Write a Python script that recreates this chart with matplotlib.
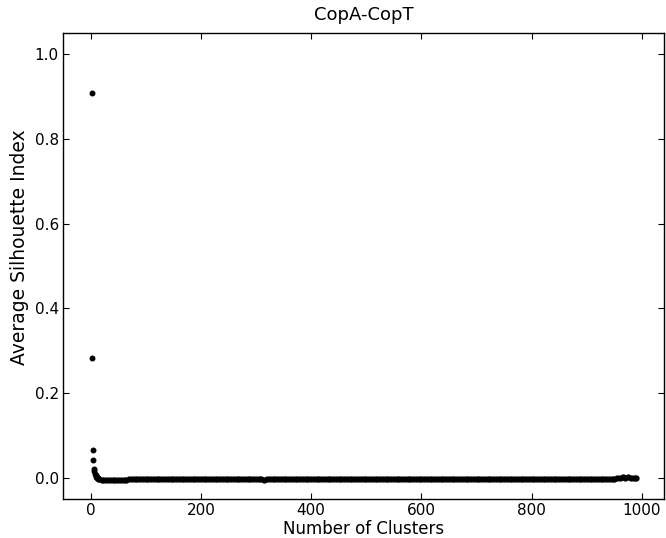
import matplotlib
matplotlib.use('Agg')
import matplotlib.pyplot as plt
import numpy as np

# Average silhouette index for the first few cluster counts (2..14)
head_clusters = [2, 3, 4, 5, 6, 7, 8, 9, 10, 11, 12, 13, 14]
head_values = [0.909, 0.283, 0.066, 0.043, 0.021, 0.015, 0.010, 0.006,
               0.003, 0.001, 0.000, -0.001, -0.002]

# Rest of the curve, read every 5 clusters from 15 to 990
tail_clusters = np.arange(15, 991, 5)
tail_values = [
    -0.003, -0.004, -0.005, -0.005, -0.005, -0.005, -0.005, -0.004, -0.004, -0.004,  # 15-60
    -0.004, -0.003, -0.003, -0.003, -0.003, -0.003, -0.003, -0.003, -0.003, -0.003,  # 65-110
    -0.003, -0.003, -0.003, -0.003, -0.003, -0.002, -0.003, -0.003, -0.002, -0.002,  # 115-160
    -0.002, -0.003, -0.002, -0.002, -0.002, -0.002, -0.002, -0.002, -0.002, -0.002,  # 165-210
    -0.002, -0.002, -0.002, -0.002, -0.002, -0.002, -0.002, -0.002, -0.002, -0.002,  # 215-260
    -0.002, -0.002, -0.002, -0.002, -0.002, -0.002, -0.002, -0.002, -0.002, -0.002,  # 265-310
    -0.004, -0.002, -0.002, -0.002, -0.002, -0.002, -0.002, -0.002, -0.002, -0.002,  # 315-360
    -0.002, -0.002, -0.002, -0.002, -0.002, -0.002, -0.002, -0.002, -0.002, -0.002,  # 365-410
    -0.002, -0.002, -0.002, -0.002, -0.002, -0.002, -0.002, -0.002, -0.002, -0.002,  # 415-460
    -0.002, -0.002, -0.002, -0.002, -0.002, -0.002, -0.002, -0.002, -0.002, -0.002,  # 465-510
    -0.002, -0.002, -0.002, -0.002, -0.002, -0.002, -0.002, -0.002, -0.002, -0.002,  # 515-560
    -0.002, -0.002, -0.002, -0.002, -0.002, -0.002, -0.002, -0.002, -0.002, -0.002,  # 565-610
    -0.002, -0.002, -0.002, -0.002, -0.002, -0.002, -0.002, -0.002, -0.002, -0.002,  # 615-660
    -0.002, -0.002, -0.002, -0.002, -0.002, -0.002, -0.002, -0.002, -0.002, -0.002,  # 665-710
    -0.002, -0.002, -0.002, -0.002, -0.002, -0.002, -0.002, -0.002, -0.002, -0.002,  # 715-760
    -0.002, -0.002, -0.002, -0.002, -0.002, -0.002, -0.002, -0.002, -0.002, -0.002,  # 765-810
    -0.002, -0.002, -0.002, -0.002, -0.002, -0.002, -0.002, -0.002, -0.002, -0.002,  # 815-860
    -0.002, -0.002, -0.002, -0.002, -0.002, -0.002, -0.002, -0.002, -0.002, -0.002,  # 865-910
    -0.002, -0.002, -0.002, -0.002, -0.002, -0.002, -0.002, -0.002, -0.001, 0.000,   # 915-960
    0.001, 0.000, 0.001, 0.000, 0.000, -0.001,                                          # 965-990
]

x_ticks = [0, 200, 400, 600, 800, 1000]
y_ticks = [0.0, 0.2, 0.4, 0.6, 0.8, 1.0]

plt.rcParams['font.family'] = 'DejaVu Sans'

fig = plt.figure(figsize=(6.66, 5.38), dpi=100)
ax = fig.add_axes([0.0946, 0.0725, 0.9024, 0.8662])

ax.plot(head_clusters, head_values, 'k.', markersize=6.5)
ax.plot(tail_clusters, tail_values, 'k.', markersize=7)

ax.set_xlim(-50, 1040)
ax.set_ylim(-0.05, 1.05)
ax.set_xticks(x_ticks)
ax.set_yticks(y_ticks)
ax.tick_params(direction='in', length=4, width=0.8, top=True, right=True,
               labelsize=11, pad=3)
for s in ax.spines.values():
    s.set_linewidth(1.0)

ax.set_xlabel('Number of Clusters', fontsize=12, labelpad=1.5)
ax.set_ylabel('Average Silhouette Index', fontsize=13.5)
ax.yaxis.set_label_coords(-0.056, 0.54)
ax.set_title('CopA-CopT', fontsize=13, pad=9.5)

fig.savefig('out.png', dpi=100)
